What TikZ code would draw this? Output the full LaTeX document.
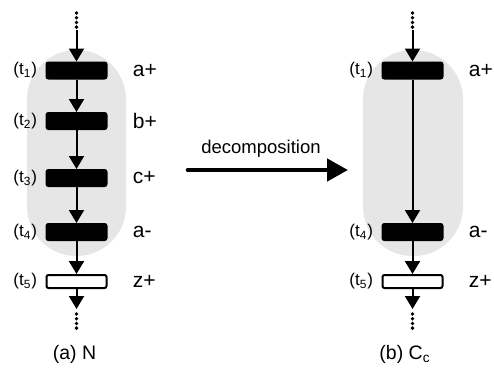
\documentclass[tikz,border=0pt]{standalone}
\usepackage{fontspec}
\setmainfont{Liberation Sans}
\usetikzlibrary{arrows.meta,positioning}
\definecolor{capsulegray}{HTML}{E6E6E6}

\begin{document}
\begin{tikzpicture}[x=0.5pt,y=-0.5pt,>={Triangle[length=6.5pt,width=7.5pt]},
  trans/.style={draw,line width=1pt,fill=black,rounded corners=1pt,
    minimum width=30pt,minimum height=8pt,inner sep=0pt},
  dummy/.style={trans,fill=white,minimum height=6.5pt},
  tname/.style={font=\fontsize{8.5}{10}\selectfont,inner sep=0pt},
  sig/.style={font=\fontsize{10.5}{12}\selectfont,inner sep=0pt},
  flow/.style={->,line width=1pt}]
\useasboundingbox (0,0) rectangle (494,371);
% shaded areas
\fill[capsulegray,rounded corners=24.7pt] (27,50) rectangle (126,256);
\fill[capsulegray,rounded corners=24.7pt] (363,50) rectangle (463,256);
% (a) N
\node[trans] (n1) at (76.5,70.5) {};
\node[trans] (n2) at (76.5,121) {};
\node[trans] (n3) at (76.5,178) {};
\node[trans] (n4) at (76.5,232) {};
\node[dummy] (n5) at (76.5,281.5) {};
\foreach \i/\s in {1/a+,2/b+,3/c+,4/a-,5/z+}{
  \node[tname,left=4pt of n\i] {(t\textsubscript{\i})};
  \node[sig,right=12.5pt of n\i] {\s};
}
\coordinate (inN) at (76.5,30);
\coordinate (outN) at (76.5,309);
\foreach \y in {13,17.7,22.4,27.1} \fill (76.5,\y) circle (0.95pt);
\foreach \y in {314,318.7,323.4,328.1} \fill (76.5,\y) circle (0.95pt);
\draw[flow] (inN) -- (n1);
\draw[flow] (n1) -- (n2);
\draw[flow] (n2) -- (n3);
\draw[flow] (n3) -- (n4);
\draw[flow] (n4) -- (n5);
\draw[flow] (n5) -- (outN);
\node[font=\fontsize{9.75}{11}\selectfont] at (74.5,354) {(a) N};
% (b) Cc
\node[trans] (c1) at (412.5,70.5) {};
\node[trans] (c4) at (412.5,232) {};
\node[dummy] (c5) at (412.5,281.5) {};
\foreach \i/\s in {1/a+,4/a-,5/z+}{
  \node[tname,left=4pt of c\i] {(t\textsubscript{\i})};
  \node[sig,right=12.5pt of c\i] {\s};
}
\coordinate (inC) at (412.5,30);
\coordinate (outC) at (412.5,309);
\foreach \y in {13,17.7,22.4,27.1} \fill (412.5,\y) circle (0.95pt);
\foreach \y in {314,318.7,323.4,328.1} \fill (412.5,\y) circle (0.95pt);
\draw[flow] (inC) -- (c1);
\draw[flow] (c1) -- (c4);
\draw[flow] (c4) -- (c5);
\draw[flow] (c5) -- (outC);
\node[font=\fontsize{9.75}{11}\selectfont] at (405,354) {(b) C\textsubscript{c}};
% decomposition arrow
\coordinate (decL) at (188,170);
\coordinate (decR) at (348,170);
\draw[-{Triangle[length=10.5pt,width=11pt]},line width=2.3pt,line cap=round] (decL) -- (decR);
\node[font=\fontsize{9.25}{11}\selectfont] at (261,149) {decomposition};
\end{tikzpicture}
\end{document}
